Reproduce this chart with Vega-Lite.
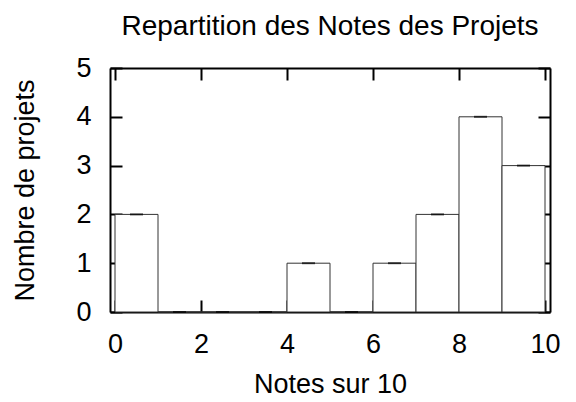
{
  "$schema": "https://vega.github.io/schema/vega-lite/v6.json",
  "width": 440,
  "height": 244,
  "autosize": "none",
  "padding": {"left": 110, "top": 68, "right": 26, "bottom": 90},
  "background": "white",
  "title": {"text": "Repartition des Notes des Projets", "fontSize": 28, "font": "Liberation Sans", "fontWeight": "normal", "color": "black", "offset": 13},
  "config": {
    "view": {"stroke": null},
    "font": "Liberation Sans",
    "axis": {
      "domainColor": "black", "domainWidth": 2,
      "tickColor": "black", "tickWidth": 2, "tickSize": -12,
      "grid": false,
      "labelFont": "Liberation Sans", "labelFontSize": 27, "labelColor": "black",
      "titleFont": "Liberation Sans", "titleFontSize": 27, "titleFontWeight": "normal", "titleColor": "black"
    }
  },
  "data": {"values": [
    {"lo": 0, "hi": 1, "mid": 0.5, "count": 2},
    {"lo": 1, "hi": 2, "mid": 1.5, "count": 0},
    {"lo": 2, "hi": 3, "mid": 2.5, "count": 0},
    {"lo": 3, "hi": 4, "mid": 3.5, "count": 0},
    {"lo": 4, "hi": 5, "mid": 4.5, "count": 1},
    {"lo": 5, "hi": 6, "mid": 5.5, "count": 0},
    {"lo": 6, "hi": 7, "mid": 6.5, "count": 1},
    {"lo": 7, "hi": 8, "mid": 7.5, "count": 2},
    {"lo": 8, "hi": 9, "mid": 8.5, "count": 4},
    {"lo": 9, "hi": 10, "mid": 9.5, "count": 3}
  ]},
  "layer": [
    {
      "mark": {"type": "bar", "orient": "vertical", "fill": "white", "stroke": "#333333", "strokeWidth": 1},
      "encoding": {
        "x": {"field": "lo", "type": "quantitative", "scale": {"domain": [0, 10], "nice": false},
              "axis": {"orient": "bottom", "values": [0, 2, 4, 6, 8, 10], "title": "Notes sur 10", "labelPadding": 31, "titlePadding": 14}},
        "x2": {"field": "hi"},
        "y": {"field": "count", "type": "quantitative", "scale": {"domain": [0, 5], "nice": false},
              "axis": {"orient": "left", "values": [0, 1, 2, 3, 4, 5], "title": "Nombre de projets", "labelPadding": 31, "titlePadding": 36}},
        "y2": {"datum": 0}
      }
    },
    {
      "mark": {"type": "tick", "orient": "horizontal", "size": 13, "thickness": 2, "color": "black"},
      "encoding": {
        "x": {"field": "mid", "type": "quantitative", "scale": {"domain": [0, 10], "nice": false},
              "axis": {"orient": "top", "values": [0, 2, 4, 6, 8, 10], "labels": false, "title": null}},
        "y": {"field": "count", "type": "quantitative", "scale": {"domain": [0, 5], "nice": false},
              "axis": {"orient": "right", "values": [0, 1, 2, 3, 4, 5], "labels": false, "title": null}}
      }
    }
  ],
  "resolve": {"axis": {"x": "independent", "y": "independent"}}
}
